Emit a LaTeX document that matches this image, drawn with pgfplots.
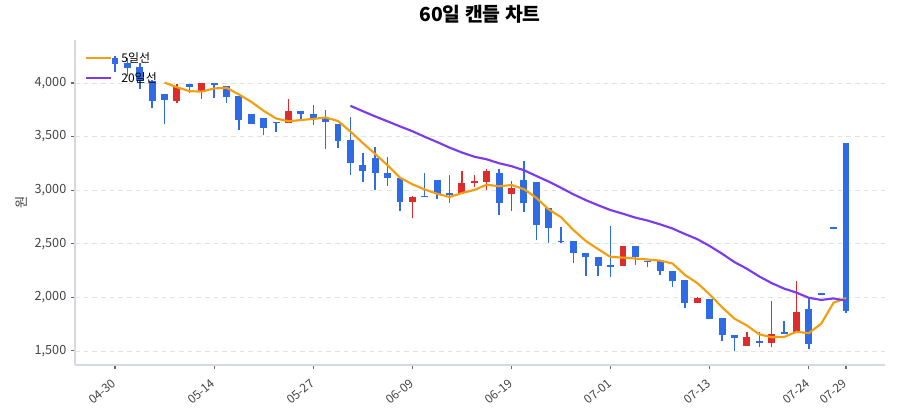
\documentclass[border=0pt]{standalone}
\usepackage{fontspec}
\setmainfont{Noto Sans CJK KR}
\usepackage{pgfplots}
\usepackage{pgfplotstable}
\pgfplotsset{compat=1.18}

\definecolor{cblue}{HTML}{2F6BE5}
\definecolor{cred}{HTML}{DD2C2C}
\definecolor{maorange}{HTML}{F59E0B}
\definecolor{mapurple}{HTML}{7B3AED}
\definecolor{axgray}{HTML}{D6DAE0}
\definecolor{tickgray}{HTML}{444444}

% down days (blue): index open high low close
\pgfplotstableread{
i o h l c
0 4236 4255 4106 4181
1 4184 4231 4069 4144
2 4152 4184 3941 4019
3 4019 4025 3764 3833
4 3897 3897 3617 3841
6 3988 3990 3904 3960
8 3997 4000 3857 3981
9 3970 3975 3810 3870
10 3880 3880 3560 3655
11 3708 3708 3617 3617
12 3677 3677 3510 3577
13 3640 3640 3546 3625
15 3742 3742 3661 3711
16 3711 3795 3608 3670
17 3670 3748 3381 3640
18 3617 3617 3390 3462
19 3468 3680 3142 3251
20 3232 3344 3074 3179
21 3304 3400 3002 3158
22 3164 3307 3043 3111
23 3111 3111 2810 2888
25 2948 3158 2932 2932
26 3095 3095 2918 2962
27 2971 3142 2878 2958
31 3158 3195 2768 2884
33 3095 3275 2800 2884
34 3080 3080 2535 2676
35 2832 2832 2505 2645
36 2530 2660 2505 2515
37 2527 2527 2318 2418
38 2411 2411 2200 2374
39 2380 2380 2200 2293
40 2302 2666 2193 2287
42 2483 2483 2302 2374
43 2342 2342 2280 2330
44 2336 2336 2209 2243
45 2243 2243 2100 2150
46 2162 2162 1898 1950
48 1985 1985 1798 1798
49 1805 1805 1596 1649
50 1649 1649 1500 1618
52 1596 1680 1534 1578
54 1680 1783 1659 1659
56 1889 1992 1518 1565
57 2045 2045 2026 2026
58 2654 2654 2635 2635
59 3437 3437 1858 1873
}\downdays

% up days (red)
\pgfplotstableread{
i o h l c
5 3835 3990 3815 3965
7 3929 3997 3851 3997
14 3630 3848 3630 3742
24 2888 2950 2738 2940
28 2978 3183 2971 3071
29 3065 3142 3033 3083
30 3080 3195 3002 3183
32 2962 3089 2810 3018
41 2296 2483 2296 2483
47 1950 2008 1950 1992
51 1550 1674 1550 1634
53 1571 1969 1534 1659
55 1665 2156 1665 1867
}\updays

\pgfplotstableread{
i v
4 4004
5 3960
6 3924
7 3919
8 3949
9 3955
10 3893
11 3824
12 3740
13 3669
14 3643
15 3654
16 3665
17 3678
18 3645
19 3547
20 3440
21 3338
22 3232
23 3117
24 3055
25 3006
26 2967
27 2936
28 2973
29 3002
30 3051
31 3036
32 3048
33 3010
34 2929
35 2821
36 2748
37 2628
38 2526
39 2449
40 2377
41 2371
42 2362
43 2353
44 2343
45 2316
46 2209
47 2133
48 2027
49 1908
50 1801
51 1738
52 1655
53 1628
54 1630
55 1679
56 1666
57 1755
58 1950
59 1993
}\mafive

\pgfplotstableread{
i v
19 3787
20 3737
21 3688
22 3642
23 3595
24 3550
25 3498
26 3449
27 3397
28 3351
29 3312
30 3288
31 3251
32 3224
33 3186
34 3133
35 3080
36 3022
37 2961
38 2907
39 2859
40 2814
41 2780
42 2744
43 2716
44 2681
45 2642
46 2591
47 2543
48 2479
49 2407
50 2329
51 2267
52 2195
53 2133
54 2082
55 2044
56 1996
57 1976
58 1990
59 1969
}\matwenty

\begin{document}
\begin{tikzpicture}
\path[use as bounding box] (-56.25pt,-41.25pt) rectangle (618.75pt,273.75pt);
\begin{axis}[
  scale only axis, width=607.5pt, height=243.75pt,
  xmin=-3.23, xmax=62.15, ymin=1369, ymax=4401,
  axis x line*=bottom, axis y line*=left,
  axis line style={-, draw=axgray, line width=1.5pt},
  xtick={0,8,16,24,32,40,48,56,59},
  xticklabels={04-30,05-14,05-27,06-09,06-19,07-01,07-13,07-24,07-29},
  ytick={1500,2000,2500,3000,3500,4000},
  tick align=outside, major tick length=3pt,
  tick style={draw=tickgray!80, line width=0.8pt},
  xticklabel style={rotate=40, anchor=north east, xshift=-3pt, font=\fontsize{9}{10}\selectfont, text=tickgray},
  yticklabel style={font=\fontsize{9.5}{10}\selectfont, text=tickgray},
  /pgf/number format/.cd, 1000 sep={,}, assume math mode=true, /pgfplots/.cd,
  ymajorgrids,
  major grid style={draw=gray!22, dash pattern=on 3.5pt off 3pt, line width=0.6pt},
  title={60일 캔들 차트},
  title style={at={(0.5,1)}, anchor=base, yshift=8pt, font=\fontsize{14.5}{16}\selectfont\bfseries},
  ylabel={원},
  ylabel style={at={(rel axis cs:0,0.5)}, anchor=center, yshift=40pt, font=\fontsize{10}{11}\selectfont, text=tickgray},
  legend style={at={(0,1)}, anchor=north west, xshift=6pt, yshift=-6pt, draw=none, fill=none,
    font=\fontsize{9}{10}\selectfont, row sep=2pt, column sep=5pt, inner sep=1pt},
  legend cell align=left,
  legend image code/.code={\draw[#1] (0pt,0pt) -- (19pt,0pt);},
]
% wicks
\addplot[forget plot, draw=none, mark=none, error bars/.cd, y dir=plus, y explicit, error mark=none,
  error bar style={line width=1.1pt, draw=cblue}]
  table[x=i, y=l, y error plus expr=\thisrow{h}-\thisrow{l}] {\downdays};
\addplot[forget plot, draw=none, mark=none, error bars/.cd, y dir=plus, y explicit, error mark=none,
  error bar style={line width=1.1pt, draw=cred}]
  table[x=i, y=l, y error plus expr=\thisrow{h}-\thisrow{l}] {\updays};
% bodies
\addplot[forget plot, draw=none, mark=none, error bars/.cd, y dir=plus, y explicit, error mark=none,
  error bar style={line width=5.2pt, draw=cblue}]
  table[x=i, y=c, y error plus expr=\thisrow{o}-\thisrow{c}] {\downdays};
\addplot[forget plot, draw=none, mark=none, error bars/.cd, y dir=plus, y explicit, error mark=none,
  error bar style={line width=5.2pt, draw=cred}]
  table[x=i, y=o, y error plus expr=\thisrow{c}-\thisrow{o}] {\updays};
% moving averages
\addplot[maorange, line width=1.6pt, mark=none] table[x=i, y=v] {\mafive};
\addlegendentry{5일선}
\addplot[mapurple, line width=1.6pt, mark=none] table[x=i, y=v] {\matwenty};
\addlegendentry{20일선}
\end{axis}
\end{tikzpicture}
\end{document}
